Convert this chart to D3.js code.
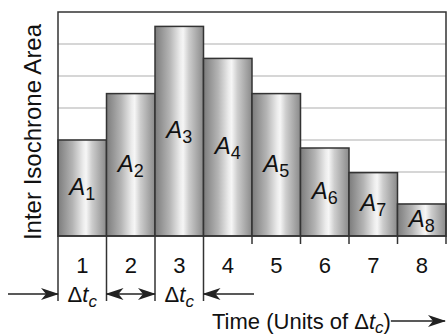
<!DOCTYPE html>
<html><head><meta charset="utf-8">
<script src="https://cdn.jsdelivr.net/npm/d3@7"></script>
<style>
html,body{margin:0;padding:0;background:#fff;}
svg{display:block;font-family:"Liberation Sans",Arial,Helvetica,sans-serif;}
</style></head>
<body>
<svg id="chart" width="447" height="336"></svg>
<script>
// ---- data ----
const categories = [1, 2, 3, 4, 5, 6, 7, 8];
const areaValues = [3.0, 4.45, 6.55, 5.55, 4.45, 2.75, 1.98, 1.0];
const areaLabels = ["1", "2", "3", "4", "5", "6", "7", "8"];
const gridValues = [1, 2, 3, 4, 5, 6];
const tickLabels = ["1", "2", "3", "4", "5", "6", "7", "8"];
const deltaColumns = [1, 3];

const svg = d3.select("#chart");
const L = 58, R = 446, T = 12, B = 236;

const x = d3.scaleBand().domain(categories).range([L, R]).padding(0);
const y = d3.scaleLinear().domain([0, 7]).range([B, T]);

const defs = svg.append("defs");
const grad = defs.append("linearGradient").attr("id", "cyl")
  .attr("x1", "0%").attr("x2", "100%").attr("y1", "0%").attr("y2", "0%");
[["0%", "#7c7c7c"], ["30%", "#b4b4b4"], ["52%", "#ececec"], ["58%", "#f6f6f6"], ["70%", "#cdcdcd"], ["100%", "#8a8a8a"]]
  .forEach(([o, c]) => grad.append("stop").attr("offset", o).attr("stop-color", c));

// arrow markers
function marker(id, orient) {
  defs.append("marker").attr("id", id)
    .attr("viewBox", "0 -7 18 14").attr("refX", 17).attr("refY", 0)
    .attr("markerWidth", 18).attr("markerHeight", 14)
    .attr("markerUnits", "userSpaceOnUse").attr("orient", orient)
    .append("path").attr("d", "M0,-6 L18,0 L0,6 L5,0 Z").attr("fill", "#222");
}
marker("arrowEnd", "auto");
marker("arrowStart", "auto-start-reverse");

// gridlines
svg.append("g").selectAll("line").data(gridValues).join("line")
  .attr("x1", L).attr("x2", R)
  .attr("y1", d => y(d)).attr("y2", d => y(d))
  .attr("stroke", "#c8c8c8").attr("stroke-width", 1.5);

// bars
svg.append("g").selectAll("rect").data(categories).join("rect")
  .attr("x", d => x(d)).attr("width", x.bandwidth())
  .attr("y", (d, i) => y(areaValues[i]))
  .attr("height", (d, i) => B - y(areaValues[i]))
  .attr("fill", "url(#cyl)").attr("stroke", "#333").attr("stroke-width", 1.5);

// frame
svg.append("rect").attr("x", L).attr("y", T).attr("width", R - L).attr("height", B - T)
  .attr("fill", "none").attr("stroke", "#333").attr("stroke-width", 1.5);

// bar labels
const lab = svg.append("g").selectAll("text").data(categories).join("text")
  .attr("x", d => x(d) + x.bandwidth() / 2)
  .attr("y", (d, i) => (y(areaValues[i]) + B) / 2 + 7)
  .attr("text-anchor", "middle").attr("font-size", 24).attr("fill", "#111");
lab.append("tspan").attr("font-style", "italic").text("A");
lab.append("tspan").attr("font-size", 18).attr("dy", 5).text((d, i) => areaLabels[i]);

// ticks below axis
const boundaries = categories.map(d => x(d)).concat([R]);
svg.append("g").selectAll("line").data(boundaries).join("line")
  .attr("x1", d => d).attr("x2", d => d)
  .attr("y1", B).attr("y2", (d, i) => i <= 3 ? 301 : 244)
  .attr("stroke", "#333").attr("stroke-width", 1.5);

// tick labels
svg.append("g").selectAll("text").data(categories).join("text")
  .attr("x", d => x(d) + x.bandwidth() / 2).attr("y", 273)
  .attr("text-anchor", "middle").attr("font-size", 22).attr("fill", "#111")
  .text((d, i) => tickLabels[i]);

// delta t_c labels
const dl = svg.append("g").selectAll("text").data(deltaColumns).join("text")
  .attr("x", d => x(d) + x.bandwidth() / 2).attr("y", 302)
  .attr("text-anchor", "middle").attr("font-size", 22).attr("fill", "#111");
dl.append("tspan").text("Δ");
dl.append("tspan").attr("font-style", "italic").text("t");
dl.append("tspan").attr("font-style", "italic").attr("font-size", 17).attr("dy", 5).text("c");

// arrows
const ay = 294;
svg.append("line").attr("x1", 8).attr("x2", x(1)).attr("y1", ay).attr("y2", ay)
  .attr("stroke", "#222").attr("stroke-width", 1.5).attr("marker-end", "url(#arrowEnd)");
svg.append("line").attr("x1", x(2)).attr("x2", x(3)).attr("y1", ay).attr("y2", ay)
  .attr("stroke", "#222").attr("stroke-width", 1.5)
  .attr("marker-end", "url(#arrowEnd)").attr("marker-start", "url(#arrowStart)");
svg.append("line").attr("x1", x(5) + 2).attr("x2", x(4)).attr("y1", ay).attr("y2", ay)
  .attr("stroke", "#222").attr("stroke-width", 1.5).attr("marker-end", "url(#arrowEnd)");

// x title
const xt = svg.append("text").attr("x", 212).attr("y", 329).attr("font-size", 22).attr("fill", "#111");
xt.append("tspan").text("Time (Units of Δ");
xt.append("tspan").attr("font-style", "italic").text("t");
xt.append("tspan").attr("font-style", "italic").attr("font-size", 17).attr("dy", 4).text("c");
xt.append("tspan").attr("dy", -4).text(")");
const xtEnd = 212 + xt.node().getComputedTextLength();
svg.append("line").attr("x1", xtEnd).attr("x2", 445).attr("y1", 321).attr("y2", 321)
  .attr("stroke", "#222").attr("stroke-width", 1.5).attr("marker-end", "url(#arrowEnd)");

// y title
svg.append("text").attr("transform", `translate(41,${(T + B) / 2 + 8}) rotate(-90)`)
  .attr("text-anchor", "middle").attr("font-size", 24).attr("fill", "#111")
  .text("Inter Isochrone Area");
</script>
</body></html>
